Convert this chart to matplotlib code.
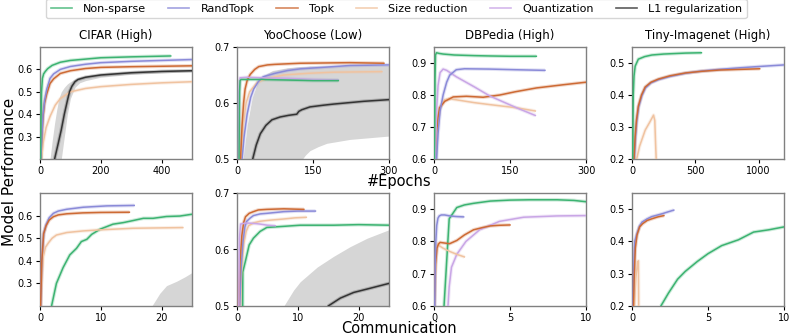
import matplotlib
matplotlib.use("Agg")
import matplotlib.pyplot as plt
from matplotlib.lines import Line2D

# ---------------- data: top row (x = #Epochs) ----------------
cifar_ep_ns_x = [2, 3, 5, 8, 12, 17, 25, 40, 67, 100, 200, 300, 430]
cifar_ep_ns_y = [0.2, 0.35, 0.5, 0.56, 0.58, 0.59, 0.603, 0.618, 0.632, 0.64, 0.652, 0.656, 0.66]
cifar_ep_rt_x = [3, 6, 10, 15, 22, 33, 45, 67, 100, 150, 200, 300, 400, 500]
cifar_ep_rt_y = [0.2, 0.3, 0.4, 0.46, 0.51, 0.56, 0.58, 0.6, 0.613, 0.623, 0.63, 0.636, 0.64, 0.644]
cifar_ep_tk_x = [3, 6, 10, 15, 22, 33, 45, 67, 100, 150, 200, 300, 400, 500]
cifar_ep_tk_y = [0.2, 0.3, 0.39, 0.45, 0.49, 0.537, 0.558, 0.582, 0.594, 0.604, 0.609, 0.612, 0.614, 0.616]
cifar_ep_sr_x = [5, 10, 20, 33, 50, 67, 100, 150, 200, 300, 400, 500]
cifar_ep_sr_y = [0.2, 0.27, 0.34, 0.39, 0.44, 0.47, 0.5, 0.515, 0.523, 0.533, 0.54, 0.545]
cifar_ep_l1_x = [48, 60, 70, 80, 90, 97, 105, 115, 125, 150, 200, 300, 400, 500]
cifar_ep_l1_y = [0.2, 0.27, 0.33, 0.4, 0.46, 0.5, 0.525, 0.545, 0.555, 0.565, 0.575, 0.585, 0.591, 0.594]
cifar_ep_band_x = [33, 40, 48, 55, 62, 70, 80, 90, 100, 115, 130, 150, 200, 300, 500]
cifar_ep_band_hi = [0.2, 0.28, 0.36, 0.42, 0.47, 0.5, 0.52, 0.535, 0.545, 0.557, 0.566, 0.572, 0.582, 0.592, 0.6]
cifar_ep_band_lo = [0.2, 0.2, 0.2, 0.2, 0.2, 0.2, 0.3, 0.4, 0.47, 0.52, 0.54, 0.55, 0.565, 0.578, 0.59]

yoo_ep_ns_x = [4, 5, 6, 8, 50, 100, 150, 200]
yoo_ep_ns_y = [0.5, 0.62, 0.64, 0.642, 0.642, 0.641, 0.64, 0.64]
yoo_ep_q_x = [3, 4, 6, 20, 50, 100, 150, 200]
yoo_ep_q_y = [0.5, 0.62, 0.645, 0.646, 0.645, 0.644, 0.642, 0.641]
yoo_ep_tk_x = [7, 10, 13, 16, 20, 26, 35, 43, 60, 75, 125, 223, 290]
yoo_ep_tk_y = [0.5, 0.56, 0.6, 0.625, 0.64, 0.651, 0.66, 0.665, 0.668, 0.669, 0.671, 0.672, 0.671]
yoo_ep_rt_x = [10, 14, 20, 27, 33, 42, 52, 75, 100, 125, 175, 223, 300]
yoo_ep_rt_y = [0.5, 0.54, 0.58, 0.61, 0.625, 0.638, 0.647, 0.653, 0.658, 0.661, 0.664, 0.667, 0.668]
yoo_ep_sr_x = [8, 12, 18, 25, 40, 60, 92, 140, 190, 286]
yoo_ep_sr_y = [0.5, 0.56, 0.6, 0.62, 0.637, 0.644, 0.65, 0.653, 0.655, 0.656]
yoo_ep_l1_x = [31, 38, 46, 57, 69, 85, 102, 118, 122, 128, 144, 170, 190, 250, 300]
yoo_ep_l1_y = [0.5, 0.525, 0.545, 0.56, 0.57, 0.575, 0.578, 0.58, 0.585, 0.588, 0.593, 0.596, 0.598, 0.603, 0.606]
yoo_ep_band_x = [12, 20, 30, 40, 50, 70, 100, 125, 135, 144, 160, 177, 223, 300]
yoo_ep_band_hi = [0.5, 0.56, 0.61, 0.635, 0.648, 0.658, 0.663, 0.665, 0.665, 0.666, 0.666, 0.666, 0.667, 0.667]
yoo_ep_band_lo = [0.45, 0.45, 0.45, 0.45, 0.45, 0.46, 0.48, 0.495, 0.507, 0.515, 0.522, 0.528, 0.535, 0.541]

db_ep_ns_x = [1, 2, 3, 5, 10, 18, 40, 80, 110, 150, 202]
db_ep_ns_y = [0.6, 0.85, 0.925, 0.932, 0.93, 0.928, 0.925, 0.923, 0.922, 0.921, 0.921]
db_ep_q_x = [3, 5, 8, 12, 18, 25, 44, 80, 110, 163, 200]
db_ep_q_y = [0.6, 0.75, 0.83, 0.87, 0.881, 0.877, 0.857, 0.825, 0.797, 0.76, 0.736]
db_ep_rt_x = [5, 8, 12, 18, 25, 31, 44, 60, 110, 160, 219]
db_ep_rt_y = [0.6, 0.68, 0.75, 0.8, 0.84, 0.862, 0.879, 0.882, 0.881, 0.879, 0.877]
db_ep_tk_x = [3, 5, 8, 11, 21, 38, 64, 97, 130, 160, 202, 255, 300]
db_ep_tk_y = [0.6, 0.68, 0.73, 0.76, 0.78, 0.794, 0.796, 0.793, 0.8, 0.81, 0.822, 0.832, 0.84]
db_ep_sr_x = [3, 5, 8, 12, 21, 30, 44, 80, 110, 163, 200]
db_ep_sr_y = [0.6, 0.68, 0.73, 0.76, 0.785, 0.788, 0.785, 0.776, 0.77, 0.76, 0.75]

tiny_ep_ns_x = [5, 10, 16, 25, 50, 100, 157, 250, 423, 548]
tiny_ep_ns_y = [0.2, 0.4, 0.46, 0.49, 0.512, 0.52, 0.525, 0.528, 0.531, 0.532]
tiny_ep_tk_x = [16, 25, 35, 50, 75, 104, 150, 210, 300, 423, 550, 689, 850, 1008]
tiny_ep_tk_y = [0.2, 0.27, 0.32, 0.365, 0.4, 0.425, 0.44, 0.45, 0.46, 0.469, 0.474, 0.478, 0.48, 0.482]
tiny_ep_rt_x = [18, 28, 38, 52, 78, 106, 150, 210, 300, 423, 550, 689, 850, 1000, 1200]
tiny_ep_rt_y = [0.2, 0.27, 0.32, 0.362, 0.398, 0.422, 0.438, 0.448, 0.458, 0.468, 0.475, 0.48, 0.485, 0.489, 0.494]
tiny_ep_sr_x = [37, 60, 104, 140, 170, 180, 186, 191]
tiny_ep_sr_y = [0.2, 0.24, 0.29, 0.315, 0.337, 0.32, 0.25, 0.2]

# ---------------- data: bottom row (x = Communication) ----------------
cifar_cm_rt_x = [0.1, 0.3, 0.6, 1.0, 1.5, 2.2, 3, 4.4, 7.1, 11, 15.5]
cifar_cm_rt_y = [0.2, 0.4, 0.52, 0.56, 0.59, 0.61, 0.62, 0.628, 0.637, 0.643, 0.645]
cifar_cm_tk_x = [0.1, 0.3, 0.6, 1.0, 1.5, 2.2, 3, 4.4, 7, 10, 14.7]
cifar_cm_tk_y = [0.2, 0.4, 0.52, 0.555, 0.58, 0.595, 0.603, 0.608, 0.612, 0.614, 0.615]
cifar_cm_sr_x = [0.1, 0.3, 0.55, 0.9, 1.4, 2, 2.7, 4.4, 7, 9.9, 15.3, 23.5]
cifar_cm_sr_y = [0.2, 0.33, 0.42, 0.46, 0.48, 0.5, 0.514, 0.525, 0.532, 0.537, 0.544, 0.547]
cifar_cm_ns_x = [1.9, 2.7, 3.8, 4.9, 6, 6.8, 7.7, 8.5, 9.9, 12, 13.7, 15.3, 17, 18.6, 20.8, 23, 25]
cifar_cm_ns_y = [0.2, 0.3, 0.37, 0.426, 0.455, 0.485, 0.495, 0.517, 0.54, 0.562, 0.569, 0.578, 0.588, 0.588, 0.596, 0.598, 0.606]
cifar_cm_band_x = [18.4, 19.7, 20.8, 22.5, 23.9, 25]
cifar_cm_band_hi = [0.2, 0.256, 0.29, 0.31, 0.33, 0.348]
cifar_cm_band_lo = [0.15, 0.15, 0.15, 0.15, 0.15, 0.15]

yoo_cm_q_x = [0.3, 0.4, 0.6, 1.5, 3, 3.8, 5, 6.3]
yoo_cm_q_y = [0.5, 0.62, 0.645, 0.647, 0.646, 0.645, 0.643, 0.642]
yoo_cm_tk_x = [0.27, 0.5, 0.8, 1.1, 1.4, 2, 2.7, 3.5, 4.9, 7.7, 11]
yoo_cm_tk_y = [0.5, 0.58, 0.625, 0.648, 0.658, 0.664, 0.667, 0.67, 0.671, 0.672, 0.671]
yoo_cm_rt_x = [0.45, 0.7, 1.0, 1.3, 1.6, 2.2, 2.7, 3.8, 4.9, 7.7, 10, 12.9]
yoo_cm_rt_y = [0.5, 0.57, 0.615, 0.64, 0.65, 0.656, 0.66, 0.663, 0.664, 0.667, 0.668, 0.668]
yoo_cm_sr_x = [0.55, 0.8, 1.1, 1.5, 1.9, 2.7, 3.8, 5.5, 7.7, 9.5, 11.4]
yoo_cm_sr_y = [0.5, 0.57, 0.61, 0.632, 0.642, 0.647, 0.65, 0.652, 0.654, 0.656, 0.657]
yoo_cm_ns_x = [0.93, 0.95, 1.4, 2.0, 2.7, 3.8, 4.9, 7.7, 10.4, 15.9, 20, 25]
yoo_cm_ns_y = [0.5, 0.56, 0.58, 0.608, 0.62, 0.632, 0.639, 0.641, 0.643, 0.643, 0.644, 0.643]
yoo_cm_l1_x = [15, 17, 19.2, 21.4, 25]
yoo_cm_l1_y = [0.5, 0.514, 0.524, 0.53, 0.54]
yoo_cm_band_x = [7.7, 9.3, 10.4, 13.2, 15.9, 18.6, 21.4, 25]
yoo_cm_band_hi = [0.5, 0.528, 0.543, 0.569, 0.588, 0.605, 0.62, 0.635]
yoo_cm_band_lo = [0.45, 0.45, 0.45, 0.45, 0.45, 0.45, 0.45, 0.45]

db_cm_rt_x = [0.05, 0.08, 0.12, 0.18, 0.26, 0.35, 0.48, 0.7, 1.03, 1.5, 1.95]
db_cm_rt_y = [0.6, 0.72, 0.8, 0.85, 0.872, 0.879, 0.882, 0.882, 0.879, 0.877, 0.876]
db_cm_ns_x = [0.66, 1.0, 1.5, 2.0, 2.6, 3.7, 5, 6.3, 8.1, 9.2, 10]
db_cm_ns_y = [0.6, 0.87, 0.905, 0.913, 0.918, 0.925, 0.928, 0.929, 0.929, 0.927, 0.923]
db_cm_q_x = [0.92, 1.0, 1.15, 1.5, 2.1, 3.0, 4.3, 5.9, 8.1, 10]
db_cm_q_y = [0.6, 0.66, 0.72, 0.76, 0.8, 0.836, 0.862, 0.875, 0.879, 0.88]
db_cm_tk_x = [0.02, 0.1, 0.2, 0.3, 0.4, 0.7, 1.03, 1.5, 2, 2.6, 3.2, 3.7, 4.3, 5]
db_cm_tk_y = [0.6, 0.73, 0.78, 0.792, 0.797, 0.795, 0.793, 0.803, 0.82, 0.836, 0.843, 0.848, 0.85, 0.851]
db_cm_sr_x = [0.02, 0.1, 0.18, 0.26, 0.4, 0.6, 1.03, 1.5, 2.0]
db_cm_sr_y = [0.6, 0.72, 0.78, 0.792, 0.785, 0.779, 0.769, 0.76, 0.752]

tiny_cm_rt_x = [0.07, 0.12, 0.18, 0.33, 0.5, 0.66, 1.0, 1.3, 1.7, 2.0, 2.4, 2.75]
tiny_cm_rt_y = [0.2, 0.32, 0.4, 0.425, 0.448, 0.46, 0.47, 0.477, 0.482, 0.486, 0.492, 0.497]
tiny_cm_tk_x = [0.1, 0.15, 0.22, 0.33, 0.5, 0.7, 1.0, 1.3, 1.7, 2.1]
tiny_cm_tk_y = [0.2, 0.3, 0.38, 0.42, 0.445, 0.455, 0.465, 0.47, 0.476, 0.48]
tiny_cm_sr_x = [0.15, 0.26, 0.37, 0.42, 0.44]
tiny_cm_sr_y = [0.2, 0.29, 0.335, 0.34, 0.2]
tiny_cm_ns_x = [1.9, 2.4, 3.0, 3.5, 4.3, 5.0, 5.9, 7.0, 8.0, 9.0, 10]
tiny_cm_ns_y = [0.2, 0.24, 0.283, 0.307, 0.338, 0.362, 0.387, 0.405, 0.429, 0.436, 0.445]

titles = ["CIFAR (High)", "YooChoose (Low)", "DBPedia (High)", "Tiny-Imagenet (High)"]
method_names = ["Non-sparse", "RandTopk", "Topk", "Size reduction", "Quantization", "L1 regularization"]

# ---------------- style ----------------
colors = {
    "Non-sparse": "#3cb371",
    "RandTopk": "#8a8ad8",
    "Topk": "#cd6a34",
    "Size reduction": "#f0c3a0",
    "Quantization": "#c9a6e6",
    "L1 regularization": "#333333",
}
BAND = "#d6d6d6"

W, H = 789, 335
fig = plt.figure(figsize=(W / 100, H / 100), dpi=100)

col_left = [40, 237, 434, 632]
ax_w = 152
top_row = (47, 159)
bot_row = (193, 306)


def make_ax(col, row):
    t, b = row
    return fig.add_axes([col_left[col] / W, 1 - b / H, ax_w / W, (b - t) / H])


def line(ax, name, x, y, z=3):
    c = colors[name]
    ax.plot(x, y, color=c, lw=2.6, alpha=0.25, zorder=z, solid_capstyle="butt")
    ax.plot(x, y, color=c, lw=1.1, zorder=z + 0.1)


def band(ax, x, lo, hi):
    ax.fill_between(x, lo, hi, color=BAND, lw=0, zorder=1)


axes_top = [make_ax(i, top_row) for i in range(4)]
axes_bot = [make_ax(i, bot_row) for i in range(4)]

# CIFAR epochs
ax = axes_top[0]
band(ax, cifar_ep_band_x, cifar_ep_band_lo, cifar_ep_band_hi)
line(ax, "Size reduction", cifar_ep_sr_x, cifar_ep_sr_y)
line(ax, "L1 regularization", cifar_ep_l1_x, cifar_ep_l1_y)
line(ax, "Topk", cifar_ep_tk_x, cifar_ep_tk_y)
line(ax, "RandTopk", cifar_ep_rt_x, cifar_ep_rt_y)
line(ax, "Non-sparse", cifar_ep_ns_x, cifar_ep_ns_y)
ax.set_xlim(0, 500); ax.set_xticks([0, 200, 400])
ax.set_ylim(0.2, 0.7); ax.set_yticks([0.3, 0.4, 0.5, 0.6])

# YooChoose epochs
ax = axes_top[1]
band(ax, yoo_ep_band_x, yoo_ep_band_lo, yoo_ep_band_hi)
line(ax, "L1 regularization", yoo_ep_l1_x, yoo_ep_l1_y)
line(ax, "Size reduction", yoo_ep_sr_x, yoo_ep_sr_y)
line(ax, "RandTopk", yoo_ep_rt_x, yoo_ep_rt_y)
line(ax, "Topk", yoo_ep_tk_x, yoo_ep_tk_y)
line(ax, "Quantization", yoo_ep_q_x, yoo_ep_q_y)
line(ax, "Non-sparse", yoo_ep_ns_x, yoo_ep_ns_y)
ax.set_xlim(0, 300); ax.set_xticks([0, 150, 300])
ax.set_ylim(0.5, 0.7); ax.set_yticks([0.5, 0.6, 0.7])

# DBPedia epochs
ax = axes_top[2]
line(ax, "Size reduction", db_ep_sr_x, db_ep_sr_y)
line(ax, "Topk", db_ep_tk_x, db_ep_tk_y)
line(ax, "Quantization", db_ep_q_x, db_ep_q_y)
line(ax, "RandTopk", db_ep_rt_x, db_ep_rt_y)
line(ax, "Non-sparse", db_ep_ns_x, db_ep_ns_y)
ax.set_xlim(0, 300); ax.set_xticks([0, 150, 300])
ax.set_ylim(0.6, 0.95); ax.set_yticks([0.6, 0.7, 0.8, 0.9])

# Tiny epochs
ax = axes_top[3]
line(ax, "Size reduction", tiny_ep_sr_x, tiny_ep_sr_y)
line(ax, "RandTopk", tiny_ep_rt_x, tiny_ep_rt_y)
line(ax, "Topk", tiny_ep_tk_x, tiny_ep_tk_y)
line(ax, "Non-sparse", tiny_ep_ns_x, tiny_ep_ns_y)
ax.set_xlim(0, 1200); ax.set_xticks([0, 500, 1000])
ax.set_ylim(0.2, 0.55); ax.set_yticks([0.2, 0.3, 0.4, 0.5])

# CIFAR communication
ax = axes_bot[0]
band(ax, cifar_cm_band_x, cifar_cm_band_lo, cifar_cm_band_hi)
line(ax, "Non-sparse", cifar_cm_ns_x, cifar_cm_ns_y)
line(ax, "Size reduction", cifar_cm_sr_x, cifar_cm_sr_y)
line(ax, "RandTopk", cifar_cm_rt_x, cifar_cm_rt_y)
line(ax, "Topk", cifar_cm_tk_x, cifar_cm_tk_y)
ax.set_xlim(0, 25); ax.set_xticks([0, 10, 20])
ax.set_ylim(0.2, 0.7); ax.set_yticks([0.3, 0.4, 0.5, 0.6])

# YooChoose communication
ax = axes_bot[1]
band(ax, yoo_cm_band_x, yoo_cm_band_lo, yoo_cm_band_hi)
line(ax, "L1 regularization", yoo_cm_l1_x, yoo_cm_l1_y)
line(ax, "Non-sparse", yoo_cm_ns_x, yoo_cm_ns_y)
line(ax, "Size reduction", yoo_cm_sr_x, yoo_cm_sr_y)
line(ax, "RandTopk", yoo_cm_rt_x, yoo_cm_rt_y)
line(ax, "Topk", yoo_cm_tk_x, yoo_cm_tk_y)
line(ax, "Quantization", yoo_cm_q_x, yoo_cm_q_y)
ax.set_xlim(0, 25); ax.set_xticks([0, 10, 20])
ax.set_ylim(0.5, 0.7); ax.set_yticks([0.5, 0.6, 0.7])

# DBPedia communication
ax = axes_bot[2]
line(ax, "Quantization", db_cm_q_x, db_cm_q_y)
line(ax, "Non-sparse", db_cm_ns_x, db_cm_ns_y)
line(ax, "Size reduction", db_cm_sr_x, db_cm_sr_y)
line(ax, "Topk", db_cm_tk_x, db_cm_tk_y)
line(ax, "RandTopk", db_cm_rt_x, db_cm_rt_y)
ax.set_xlim(0, 10); ax.set_xticks([0, 5, 10])
ax.set_ylim(0.6, 0.95); ax.set_yticks([0.6, 0.7, 0.8, 0.9])

# Tiny communication
ax = axes_bot[3]
line(ax, "Non-sparse", tiny_cm_ns_x, tiny_cm_ns_y)
line(ax, "Size reduction", tiny_cm_sr_x, tiny_cm_sr_y)
line(ax, "RandTopk", tiny_cm_rt_x, tiny_cm_rt_y)
line(ax, "Topk", tiny_cm_tk_x, tiny_cm_tk_y)
ax.set_xlim(0, 10); ax.set_xticks([0, 5, 10])
ax.set_ylim(0.2, 0.55); ax.set_yticks([0.2, 0.3, 0.4, 0.5])

for i, ax in enumerate(axes_top):
    ax.set_title(titles[i], fontsize=8.5, pad=6)
for ax in axes_top + axes_bot:
    ax.tick_params(labelsize=7, length=3, width=0.8, pad=2)
    for s in ax.spines.values():
        s.set_color("#808080")
        s.set_linewidth(1.0)

fig.text(0.012, 0.486, "Model Performance", rotation=90, va="center", ha="center", fontsize=11)
fig.text(0.506, 0.457, "#Epochs", va="center", ha="center", fontsize=10.5)
fig.text(0.506, 0.018, "Communication", va="center", ha="center", fontsize=10.5)

handles = [Line2D([0], [0], color=colors[m], lw=1.2, alpha=0.8) for m in method_names]
fig.legend(handles, method_names, loc="lower center", bbox_to_anchor=(0.5025, 1 - 18 / H),
           ncol=6, fontsize=8, frameon=True, handlelength=1.9, columnspacing=2.0,
           borderpad=0.4, handletextpad=1.0, borderaxespad=0.0)

fig.savefig("out.png", dpi=100)
